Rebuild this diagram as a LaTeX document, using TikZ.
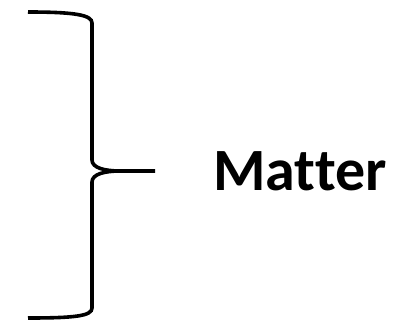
\documentclass[tikz,border=0pt]{standalone}
\usepackage{fontspec}
\setmainfont{Carlito}[Ligatures=NoCommon]
\usetikzlibrary{positioning}
\tikzset{
  brc/.style ={draw, line width=3.6pt, line cap=butt},
  ttl/.style ={font=\fontsize{60}{62}\selectfont\bfseries, inner sep=0pt, anchor=base},
}

\begin{document}
\begin{tikzpicture}[x=1pt, y=1pt]
  \useasboundingbox (0,0) rectangle (404,330);
  \coordinate (tip) at (155,159);
  \draw[brc] (28,318) .. controls (75,318) and (92,315) .. (92,307) -- (92,170)
    .. controls (92,162) and (105,159) .. (120,159) -- (tip);
  \draw[brc] (120,159) .. controls (105,159) and (92,156) .. (92,148) -- (92,22)
    .. controls (92,14) and (75,12) .. (28,12);
  \node[ttl] (matter) at (300,140) {Matter};
\end{tikzpicture}
\end{document}
